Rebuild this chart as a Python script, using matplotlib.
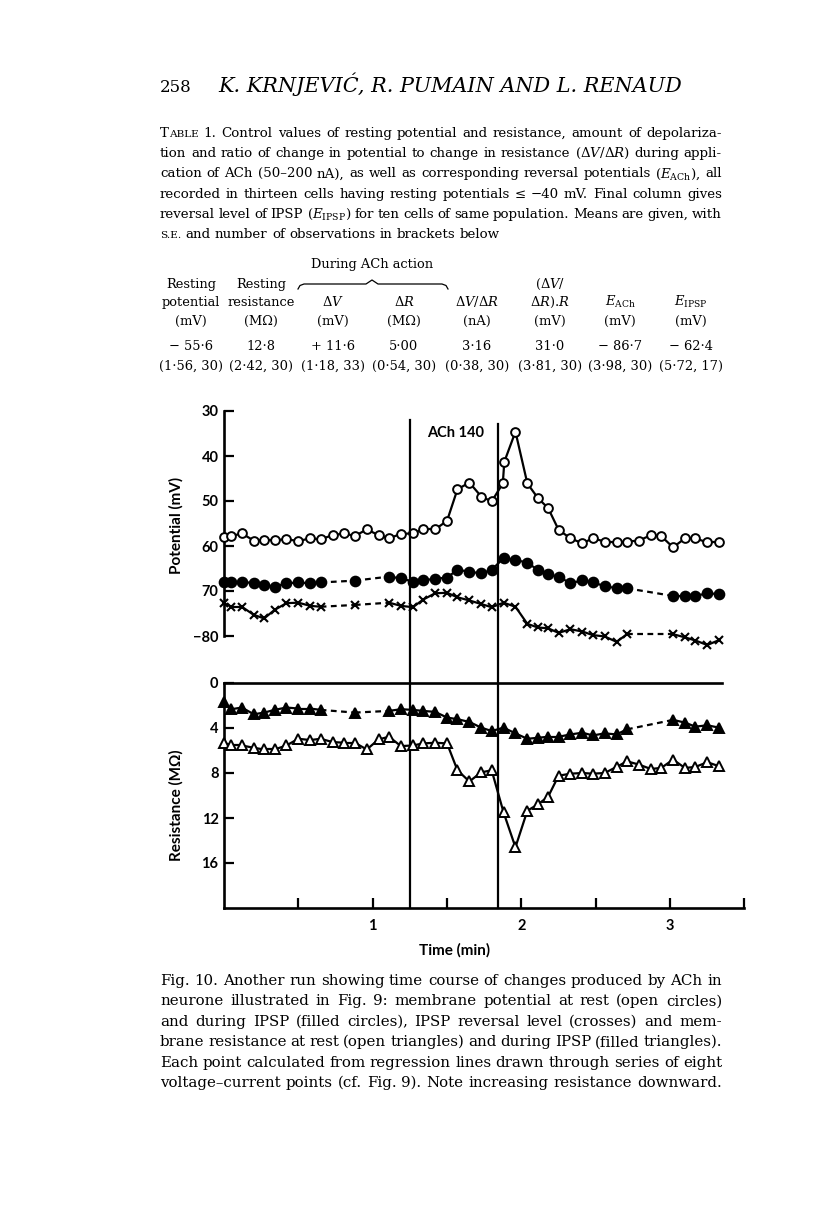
import matplotlib
matplotlib.use('Agg')
import matplotlib.pyplot as plt
from matplotlib.lines import Line2D

W, H = 816, 1229
SERIF = 'DejaVu Serif'
SANS = ['Lato', 'DejaVu Sans']
plt.rcParams['mathtext.fontset'] = 'dejavuserif'

# ---- values ----
# sample times (min), shared by most series
TIME = [0.00, 0.05, 0.12, 0.20, 0.27, 0.34, 0.42, 0.50, 0.58, 0.65,
        0.73, 0.81, 0.88, 0.96, 1.04, 1.11, 1.19, 1.27, 1.34, 1.42,
        1.50, 1.57, 1.65, 1.73, 1.80, 1.88, 1.96, 2.04, 2.11, 2.18,
        2.25, 2.33, 2.41, 2.48, 2.56, 2.64, 2.71, 2.79, 2.87, 2.94,
        3.02, 3.10, 3.17, 3.25, 3.33]

# resting potential (open circles) has two points close together at 1.88
TIME_REST_V = [0.00, 0.05, 0.12, 0.20, 0.27, 0.34, 0.42, 0.50, 0.58, 0.65,
               0.73, 0.81, 0.88, 0.96, 1.04, 1.11, 1.19, 1.27, 1.34, 1.42,
               1.50, 1.57, 1.65, 1.73, 1.80, 1.875, 1.885, 1.96, 2.04, 2.11,
               2.18, 2.25, 2.33, 2.41, 2.48, 2.56, 2.64, 2.71, 2.79, 2.87,
               2.94, 3.02, 3.10, 3.17, 3.25, 3.33]
REST_V = [58.1, 57.8, 57.2, 58.8, 58.7, 58.7, 58.5, 58.9, 58.3, 58.5,
          57.6, 57.2, 57.8, 56.3, 57.6, 58.3, 57.3, 57.2, 56.3, 56.3,
          54.4, 47.4, 45.9, 49.0, 50.1, 46.1, 41.3, 34.6, 46.1, 49.3,
          51.6, 56.4, 58.3, 59.4, 58.3, 59.0, 59.2, 59.0, 58.8, 57.6,
          57.8, 60.3, 58.3, 58.3, 59.2, 59.2]

# potential during IPSP (filled circles), None = no point
IPSP_V = [68.1, 67.9, 67.9, 68.3, 68.7, 69.0, 68.3, 68.1, 68.3, 68.1,
          None, None, 67.7, None, None, 66.8, 67.2, 67.9, 67.6, 67.3,
          67.0, 65.3, 65.7, 66.1, 65.3, 62.7, 63.1, 63.7, 65.3, 66.3,
          66.8, 68.3, 67.6, 68.1, 68.9, 69.4, 69.4, None, None, None,
          71.1, 71.1, 71.1, 70.5, 70.7]

# IPSP reversal level (crosses)
REVERSAL = [72.7, 73.5, 73.5, 75.3, 76.1, 74.2, 72.7, 72.6, 73.3, 73.5,
            None, None, 73.1, None, None, 72.6, 73.3, 73.6, 71.9, 70.5,
            70.4, 71.4, 72.1, 72.9, 73.6, 72.6, 73.5, 77.3, 78.1, 78.3,
            79.3, 78.5, 79.0, 79.8, 80.1, 81.3, 79.6, None, None, None,
            79.6, 80.3, 81.0, 82.0, 80.9]

# resistance during IPSP (filled triangles), MOhm
IPSP_R = [1.73, 2.33, 2.18, 2.78, 2.63, 2.39, 2.18, 2.27, 2.27, 2.39,
          None, None, 2.63, None, None, 2.48, 2.33, 2.39, 2.48, 2.57,
          3.07, 3.22, 3.46, 3.97, 4.27, 3.97, 4.48, 4.96, 4.87, 4.78,
          4.78, 4.57, 4.42, 4.66, 4.48, 4.57, 4.12, None, None, None,
          3.28, 3.52, 3.88, 3.76, 3.97]

# resting resistance (open triangles)
REST_R = [5.31, 5.55, 5.55, 5.76, 5.91, 5.91, 5.55, 4.96, 5.07, 4.96,
          5.25, 5.31, 5.31, 5.91, 5.01, 4.78, 5.61, 5.55, 5.37, 5.31,
          5.37, 7.76, 8.75, 7.94, 7.76, 11.5, 14.6, 11.35, 10.8, 10.1,
          8.24, 8.06, 8.0, 8.06, 8.0, 7.46, 6.96, 7.25, 7.64, 7.55,
          6.81, 7.55, 7.46, 7.04, 7.40]

ACH_ON, ACH_OFF = 1.249, 1.841

V_TICKS = [30, 40, 50, 60, 70, 80]
V_LABELS = ['30', '40', '50', '60', '70', '\u221280']
R_TICKS = [0, 4, 8, 12, 16]
T_TICKS = [0.5, 1, 1.5, 2, 2.5, 3, 3.5]
T_LABELS = ['', '1', '', '2', '', '3', '']

TABLE_CAPTION = [
    "T^ABLE 1. Control values of resting potential and resistance, amount of depolariza-",
    "tion and ratio of change in potential to change in resistance ($\\Delta{V}/\\Delta{R}$) during appli-",
    "cation of ACh (50\u2013200 nA), as well as corresponding reversal potentials ($E_{\\mathrm{ACh}}$), all",
    "recorded in thirteen cells having resting potentials \u2264 \u221240 mV. Final column gives",
    "reversal level of IPSP ($E_{\\mathrm{IPSP}}$) for ten cells of same population. Means are given, with",
    "^S.E. and number of observations in brackets below",
]
HEAD_A = ['Resting', 'Resting', '', '', '', r'($\Delta{V}$/', '', '']
HEAD_B = ['potential', 'resistance', r'$\Delta{V}$', r'$\Delta{R}$', r'$\Delta{V}/\Delta{R}$',
          r'$\Delta{R}$).$R$', r'$E_{\mathrm{ACh}}$', r'$E_{\mathrm{IPSP}}$']
HEAD_C = ['(mV)', '(M\u03a9)', '(mV)', '(M\u03a9)', '(nA)', '(mV)', '(mV)', '(mV)']
MEANS = ['\u2212 55\u00b76', '12\u00b78', '+ 11\u00b76', '5\u00b700', '3\u00b716', '31\u00b70',
         '\u2212 86\u00b77', '\u2212 62\u00b74']
SE_N = ['(1\u00b756, 30)', '(2\u00b742, 30)', '(1\u00b718, 33)', '(0\u00b754, 30)',
        '(0\u00b738, 30)', '(3\u00b781, 30)', '(3\u00b798, 30)', '(5\u00b772, 17)']

FIG_CAPTION = [
    "Fig. 10. Another run showing time course of changes produced by ACh in",
    "neurone illustrated in Fig. 9: membrane potential at rest (open circles)",
    "and during IPSP (filled circles), IPSP reversal level (crosses) and mem-",
    "brane resistance at rest (open triangles) and during IPSP (filled triangles).",
    "Each point calculated from regression lines drawn through series of eight",
    "voltage\u2013current points (cf. Fig. 9). Note increasing resistance downward.",
]

fig = plt.figure(figsize=(W / 100, H / 100), dpi=100)
rend = fig.canvas.get_renderer()


def fx(x):
    return x / W


def fy(y):
    return 1 - y / H


def make_words(line, y, size):
    # one list of text pieces per word; '^' switches to small capitals
    words = []
    for w in line.split():
        parts = []
        if '^' in w:
            a, b = w.split('^')
            if a:
                parts.append((a, size))
            parts.append((b, size * 0.78))
        else:
            parts.append((w, size))
        arts = [fig.text(0, fy(y), s, fontsize=sz, family=SERIF, va='baseline')
                for s, sz in parts]
        words.append(arts)
    widths = [[a.get_window_extent(rend).width for a in arts] for arts in words]
    return words, widths


def natural_width(line, size):
    words, widths = make_words(line, 0, size)
    for arts in words:
        for a in arts:
            a.remove()
    return sum(sum(ws) for ws in widths) + (len(words) - 1) * size * 100 / 72 * 0.32


def put_block(lines, y0, step, x0=160, x1=722, last_fill=False):
    # pick the size that makes a typical line fill the measure, then justify
    ratios = sorted((x1 - x0) / natural_width(l, 10.0) for l in lines[:-1])
    size = 10.0 * ratios[len(ratios) // 2]
    for i, line in enumerate(lines):
        words, widths = make_words(line, y0 + i * step, size)
        total = sum(sum(ws) for ws in widths)
        fill = last_fill or i < len(lines) - 1
        if fill and len(words) > 1:
            gap = (x1 - x0 - total) / (len(words) - 1)
        else:
            gap = size * 100 / 72 * 0.32
        x = x0
        for arts, ws in zip(words, widths):
            for a, w in zip(arts, ws):
                a.set_x(fx(x))
                x += w
            x += gap


# header
fig.text(fx(160), fy(92), '258', family=SERIF, fontsize=12, va='baseline')
hd = fig.text(fx(218), fy(92), 'K. KRNJEVI\u0106, R. PUMAIN AND L. RENAUD',
              family=SERIF, style='italic', fontsize=14, va='baseline')
hd.set_fontsize(14 * 465 / hd.get_window_extent(rend).width)

# table caption
put_block(TABLE_CAPTION, 137, 20.2)

# table
COLS = [191, 261, 333, 404, 477, 550, 620, 691]
TSIZE = 9.4
fig.text(fx(372), fy(268), 'During ACh action', family=SERIF, fontsize=TSIZE,
         ha='center', va='baseline')
bx = [298, 300, 304, 366, 372, 378, 442, 446, 448]
by = [289, 285.5, 284, 284, 280, 284, 284, 285.5, 289]
fig.add_artist(Line2D([fx(v) for v in bx], [fy(v) for v in by], color='k', lw=0.9))
for row, yb in ((HEAD_A, 288), (HEAD_B, 306), (HEAD_C, 325), (MEANS, 350), (SE_N, 370)):
    for xc, s in zip(COLS, row):
        if s:
            fig.text(fx(xc), fy(yb), s, family=SERIF, fontsize=TSIZE, ha='center', va='baseline')

# ---- figure ----
X0, PX_MIN = 224, 148.7
ax1 = fig.add_axes([fx(X0), fy(636), 3.5 * PX_MIN / W, 225 / H])
ax2 = fig.add_axes([fx(X0), fy(908), 3.5 * PX_MIN / W, 225 / H])


def draw_series(ax, t, v, marker, ms, mfc, mew=1.4):
    pts = [(x, y, i) for i, (x, y) in enumerate(zip(t, v)) if y is not None]
    for (xa, ya, ia), (xb, yb, ib) in zip(pts[:-1], pts[1:]):
        ls = '-' if ib - ia == 1 else (0, (2.6, 2.0))
        ax.plot([xa, xb], [ya, yb], color='k', lw=1.6, ls=ls, zorder=2, clip_on=False)
    ax.plot([p[0] for p in pts], [p[1] for p in pts], ls='none', marker=marker, ms=ms,
            mfc=mfc, mec='k', mew=mew, zorder=3, clip_on=False)


for ax in (ax1, ax2):
    ax.set_xlim(0, 3.5)
    ax.patch.set_alpha(0)
    ax.tick_params(direction='in', length=7, width=1.6, pad=4, colors='k')
    for s in ax.spines.values():
        s.set_linewidth(1.9)

ax1.set_ylim(80, 30)
for s in ('top', 'right', 'bottom'):
    ax1.spines[s].set_visible(False)
ax1.spines['left'].set_bounds(30, 80)
ax1.set_xticks([])
ax1.set_yticks(V_TICKS)
ax1.set_yticklabels(V_LABELS, family=SANS, fontweight='bold', fontsize=10.5)

draw_series(ax1, TIME_REST_V, REST_V, 'o', 6.3, 'white')
draw_series(ax1, TIME, IPSP_V, 'o', 7.0, 'black')
draw_series(ax1, TIME, REVERSAL, 'x', 5.5, 'none', mew=1.5)

ax2.set_ylim(20, 0)
ax2.spines['right'].set_visible(False)
ax2.spines['top'].set_bounds(0, 3.35)
ax2.set_yticks(R_TICKS)
ax2.set_yticklabels([str(v) for v in R_TICKS], family=SANS, fontweight='bold', fontsize=10.5)
ax2.set_xticks(T_TICKS)
ax2.set_xticklabels(T_LABELS, family=SANS, fontweight='bold', fontsize=10.5)
ax2.tick_params(axis='x', pad=8)

draw_series(ax2, TIME, IPSP_R, '^', 7.0, 'black')
draw_series(ax2, TIME, REST_R, '^', 7.0, 'white')

# ACh application bars run up through the potential panel
ax2.axvline(ACH_ON, 0, (908 - 420) / 225, color='k', lw=1.6, clip_on=False)
ax2.axvline(ACH_OFF, 0, (908 - 424) / 225, color='k', lw=1.6, clip_on=False)

fig.text(fx(456), fy(433), 'ACh 140', family=SANS, fontweight='bold', fontsize=10.5,
         ha='center', va='center')
fig.text(fx(176), fy(525), 'Potential (mV)', family=SANS, fontweight='bold', fontsize=11,
         rotation=90, ha='center', va='center')
fig.text(fx(176), fy(805), 'Resistance (M\u03a9)', family=SANS, fontweight='bold', fontsize=11,
         rotation=90, ha='center', va='center')
fig.text(fx(455), fy(950), 'Time (min)', family=SANS, fontweight='bold', fontsize=11,
         ha='center', va='center')

# figure caption
put_block(FIG_CAPTION, 985, 20.4, last_fill=True)

fig.savefig('out.png', dpi=100)
